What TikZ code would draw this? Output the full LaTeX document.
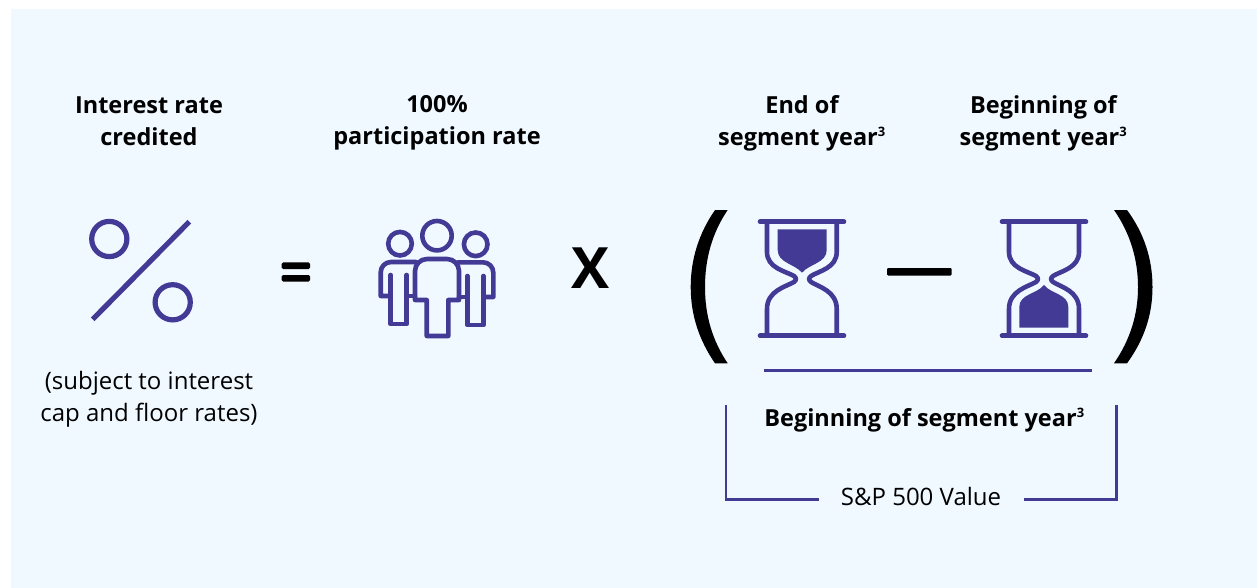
\documentclass[tikz,border=0pt]{standalone}
\usepackage{fontspec}
\setmainfont{Open Sans}
\definecolor{panelbg}{HTML}{F0F9FF}
\definecolor{indigo}{HTML}{433A96}
\definecolor{inkblack}{HTML}{000000}
\newcommand{\supthree}{\textsuperscript{\fontsize{13}{13}\selectfont\bfseries 3}}
\tikzset{
  x=1pt,y=-1pt,
  label text/.style={font=\fontsize{24}{32}\selectfont,align=center,text=inkblack,inner sep=0pt,anchor=center},
  head text/.style={label text,font=\fontsize{23.5}{32}\selectfont\bfseries},
  symbol text/.style={text=inkblack,inner sep=0pt,anchor=center,font=\bfseries},
  icon line/.style={draw=indigo,line width=4.6pt,line join=round,line cap=round},
  thin rule/.style={draw=indigo,line width=2.6pt,line join=miter},
}
\begin{document}
\begin{tikzpicture}
\useasboundingbox (0,0) rectangle (1257,588);
\fill[white] (0,0) rectangle (1257,588);
\fill[panelbg] (11,9) rectangle (1257,588);
% headings
\node[head text] (credited) at (149,121) {Interest rate\\credited};
\node[head text] (participation) at (437,123.3) {100\%\\participation rate};
\node[head text] (endyear) at (802,123) {End of\\segment year\supthree};
\node[head text] (beginyear) at (1043.5,123) {Beginning of\\segment year\supthree};
\node[label text] (subject) at (149,398.8) {(subject to interest\\cap and floor rates)};
\node[head text] (denominator) at (924.5,420) {Beginning of segment year\supthree};
\node[label text] (spvalue) at (921,496.5) {S\&P 500 Value};
% operators
\node[symbol text,font=\fontsize{57}{57}\selectfont\bfseries] (times) at (591,268) {X};
\fill[inkblack,rounded corners=1.5pt] (281.7,262.3) rectangle (310,269);
\fill[inkblack,rounded corners=1.5pt] (281.7,275) rectangle (310,281.7);
\fill[inkblack,rounded corners=1pt] (887,268) rectangle (951.5,275.5);
% percent icon
\draw[indigo,line width=5.2pt] (109.3,239) circle[radius=17.6];
\draw[indigo,line width=5.2pt] (172.7,302.3) circle[radius=17.6];
\draw[indigo,line width=5.2pt] (189.3,221.7) -- (92.7,319.3);
% people icon
\draw[icon line] (437,235.7) circle[radius=14.7];
\draw[icon line] (400,243.7) circle[radius=11.8];
\draw[icon line] (475.7,244.3) circle[radius=11.8];
\draw[icon line] (415,300) -- (415,271) arc[start angle=180,end angle=270,radius=12] -- (447,259) arc[start angle=270,end angle=360,radius=12] -- (459,300) -- (448.3,300) -- (448.3,336) -- (426.7,336) -- (426.7,300) -- cycle;
\draw[icon line] (416,262) -- (391,262) arc[start angle=270,end angle=180,radius=10.3] -- (380.7,296) -- (390.7,296);
\draw[icon line] (390.7,275) -- (390.7,324) -- (406.7,324) -- (406.7,275);
\draw[icon line] (407,296) -- (415,296);
\draw[icon line] (458,262.3) -- (483,262.3) arc[start angle=270,end angle=360,radius=10.3] -- (493.3,297) -- (483.3,297);
\draw[icon line] (467.3,276) -- (467.3,325) -- (483.3,325) -- (483.3,276);
\draw[icon line] (467,297) -- (459,297);
% left parenthesis
\fill[inkblack] (715,210) .. controls (699,233) and (690.7,259) .. (690.7,287) .. controls (690.7,315) and (699,340) .. (715,363.3) -- (727.7,363.3) .. controls (712,340) and (705,315) .. (705,287) .. controls (705,259) and (712,233) .. (727.7,210) -- cycle;
% right parenthesis
\fill[inkblack] (1127,210) .. controls (1144,233) and (1152.5,259) .. (1152.5,287) .. controls (1152.5,315) and (1144,340) .. (1127,363.3) -- (1114,363.3) .. controls (1130,340) and (1138,315) .. (1138,287) .. controls (1138,259) and (1130,233) .. (1114,210) -- cycle;
% hourglass with sand on top
\draw[icon line] (760,221.7) -- (844,221.7);
\draw[icon line] (760,335.7) -- (844,335.7);
\draw[icon line] (767,221.7) -- (767,252) .. controls (767,268) and (785,271) .. (794,276) .. controls (796.5,278) and (796.5,280) .. (794,282) .. controls (785,287) and (767,291) .. (767,309) -- (767,335.7);
\draw[icon line] (836.7,221.7) -- (836.7,252) .. controls (836.7,268) and (819,271) .. (811,276) .. controls (808.5,278) and (808.5,280) .. (811,282) .. controls (819,287) and (836.7,291) .. (836.7,309) -- (836.7,335.7);
\fill[indigo] (777.7,229.3) -- (826.7,229.3) -- (826.7,250) .. controls (826.7,263) and (809,264) .. (802,272.7) .. controls (795,264) and (777.7,263) .. (777.7,250) -- cycle;
% hourglass with sand below
\draw[icon line] (1002,221.7) -- (1086,221.7);
\draw[icon line] (1002,335.7) -- (1086,335.7);
\draw[icon line] (1009,221.7) -- (1009,252) .. controls (1009,268) and (1027,271) .. (1036,276) .. controls (1038.5,278) and (1038.5,280) .. (1036,282) .. controls (1027,287) and (1009,291) .. (1009,309) -- (1009,335.7);
\draw[icon line] (1079,221.7) -- (1079,252) .. controls (1079,268) and (1061,271) .. (1053,276) .. controls (1050.5,278) and (1050.5,280) .. (1053,282) .. controls (1061,287) and (1079,291) .. (1079,309) -- (1079,335.7);
\fill[indigo] (1019.3,327.7) -- (1068.3,327.7) -- (1068.3,307) .. controls (1068.3,294) and (1051,294) .. (1044,285) .. controls (1037,294) and (1019.3,294) .. (1019.3,307) -- cycle;
% fraction rule and bracket
\draw[thin rule] (763.5,370.3) -- (1092,370.3);
\draw[thin rule] (726,405) -- (726,499.2) -- (819,499.2);
\draw[thin rule] (1116.7,405) -- (1116.7,499.2) -- (1024,499.2);
\end{tikzpicture}
\end{document}
